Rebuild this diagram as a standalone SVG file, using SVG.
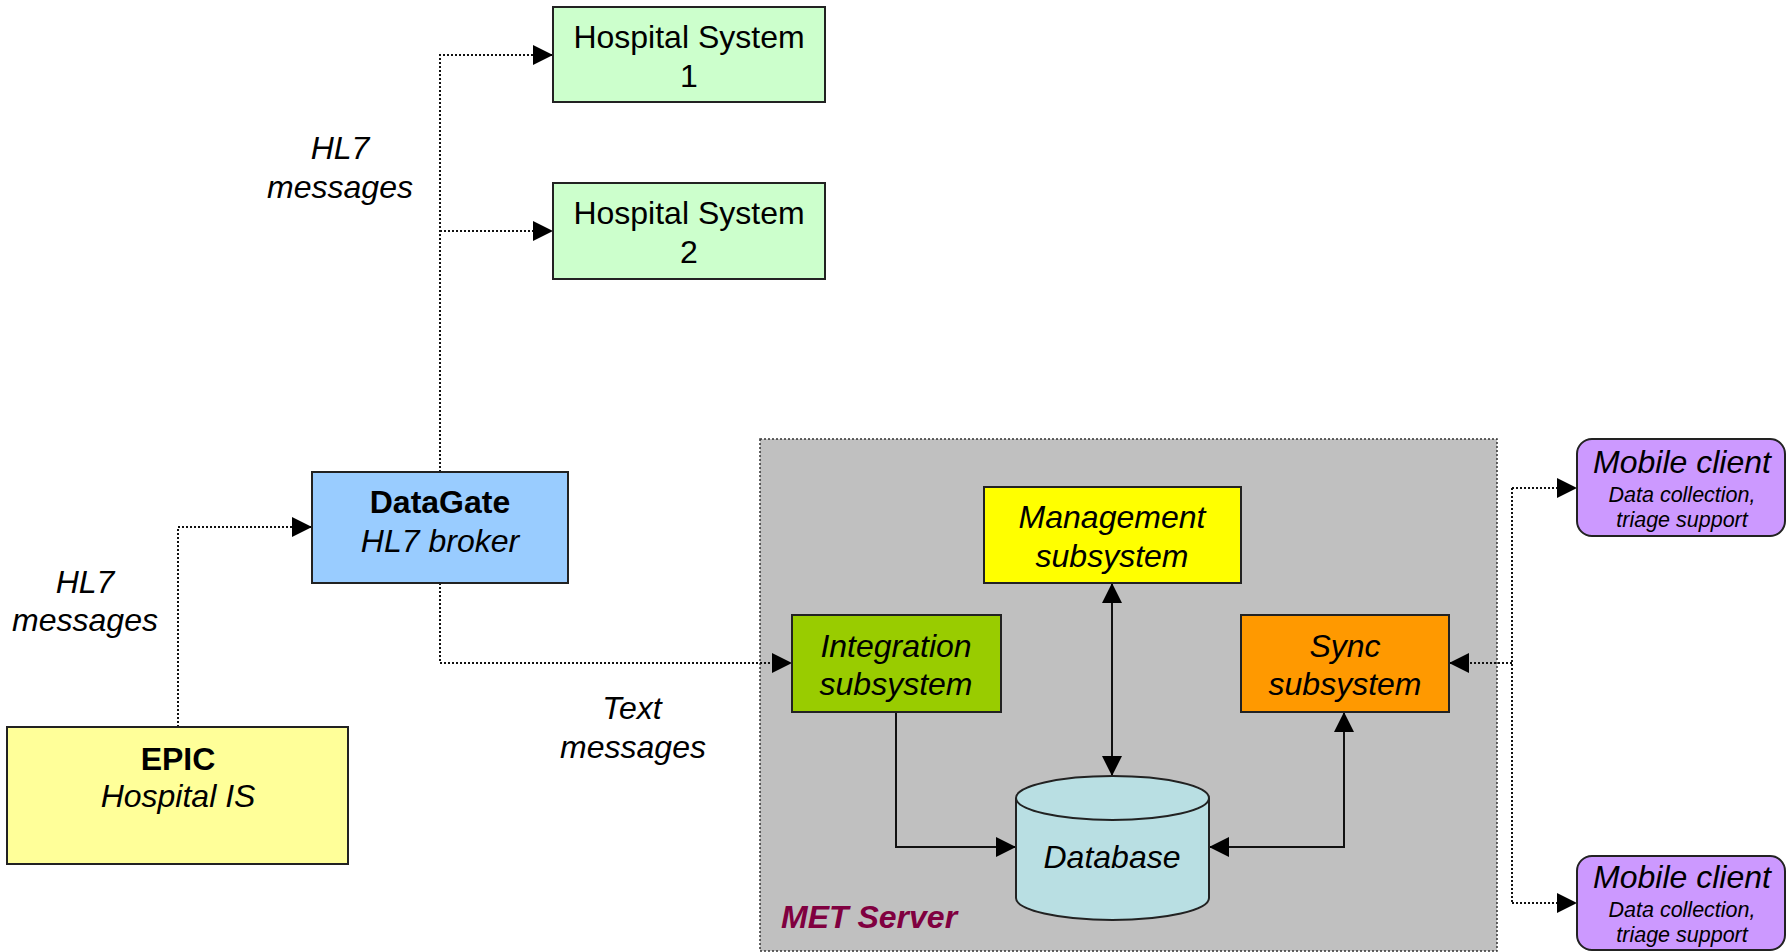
<svg xmlns="http://www.w3.org/2000/svg" width="1788" height="952" viewBox="0 0 1788 952">
<style>
.box{stroke:#222;stroke-width:2}
.t{font-family:"Liberation Sans",Arial,sans-serif;font-size:32px;fill:#000;text-anchor:middle}
.i{font-style:italic}
.b{font-weight:bold}
.s{font-size:21.5px}
.dot{fill:none;stroke:#111;stroke-width:2;stroke-dasharray:2 2}
.sol{fill:none;stroke:#111;stroke-width:2}
</style>
<defs>
<marker id="ah" markerUnits="userSpaceOnUse" markerWidth="20" markerHeight="20" refX="20" refY="10" orient="auto-start-reverse" viewBox="0 0 20 20">
<path d="M0,0 L20,10 L0,20 z" fill="#000"/>
</marker>
</defs>
<rect x="0" y="0" width="1788" height="952" fill="#fff"/>
<g id="met-server">
<rect x="760" y="439" width="737" height="512" fill="#C0C0C0" stroke="#333" stroke-width="1.5" stroke-dasharray="2 2"/>
<text class="t i b" x="781" y="928" style="text-anchor:start;fill:#800040">MET Server</text>
</g>
<g id="connectors">
<path class="dot" d="M440,472 V55 H553" marker-end="url(#ah)"/>
<path class="dot" d="M440,231 H553" marker-end="url(#ah)"/>
<path class="dot" d="M178,727 V527 H312" marker-end="url(#ah)"/>
<path class="dot" d="M440,583 V663 H792" marker-end="url(#ah)"/>
<path class="dot" d="M1512,488 V903"/>
<path class="dot" d="M1512,663 H1449" marker-end="url(#ah)"/>
<path class="dot" d="M1512,488 H1577" marker-end="url(#ah)"/>
<path class="dot" d="M1512,903 H1577" marker-end="url(#ah)"/>
<path class="sol" d="M1112,583 V776" marker-start="url(#ah)" marker-end="url(#ah)"/>
<path class="sol" d="M896,712 V847 H1016" marker-end="url(#ah)"/>
<path class="sol" d="M1209,847 H1344 V712" marker-start="url(#ah)" marker-end="url(#ah)"/>
</g>
<g id="hospital-system-1">
<rect class="box" x="553" y="7" width="272" height="95" fill="#CCFFCC"/>
<text class="t" x="689" y="48">Hospital System</text>
<text class="t" x="689" y="87">1</text>
</g>
<g id="hospital-system-2">
<rect class="box" x="553" y="183" width="272" height="96" fill="#CCFFCC"/>
<text class="t" x="689" y="224">Hospital System</text>
<text class="t" x="689" y="263">2</text>
</g>
<g id="label-hl7-top">
<text class="t i" x="340" y="159">HL7</text>
<text class="t i" x="340" y="198">messages</text>
</g>
<g id="label-hl7-left">
<text class="t i" x="85" y="593">HL7</text>
<text class="t i" x="85" y="631">messages</text>
</g>
<g id="label-text">
<text class="t i" x="632" y="719">Text</text>
<text class="t i" x="633" y="758">messages</text>
</g>
<g id="datagate">
<rect class="box" x="312" y="472" width="256" height="111" fill="#99CCFF"/>
<text class="t b" x="440" y="513">DataGate</text>
<text class="t i" x="440" y="552">HL7 broker</text>
</g>
<g id="epic">
<rect class="box" x="7" y="727" width="341" height="137" fill="#FFFF99"/>
<text class="t b" x="178" y="770">EPIC</text>
<text class="t i" x="178" y="807">Hospital IS</text>
</g>
<g id="management">
<rect class="box" x="984" y="487" width="257" height="96" fill="#FFFF00"/>
<text class="t i" x="1112" y="528">Management</text>
<text class="t i" x="1112" y="567">subsystem</text>
</g>
<g id="integration">
<rect class="box" x="792" y="615" width="209" height="97" fill="#99CC00"/>
<text class="t i" x="896" y="657">Integration</text>
<text class="t i" x="896" y="695">subsystem</text>
</g>
<g id="sync">
<rect class="box" x="1241" y="615" width="208" height="97" fill="#FF9900"/>
<text class="t i" x="1345" y="657">Sync</text>
<text class="t i" x="1345" y="695">subsystem</text>
</g>
<g id="database">
<path class="box" d="M1016,798 V898 A96.5,22 0 0 0 1209,898 V798 A96.5,22 0 0 0 1016,798 Z" fill="#B9DFE3"/>
<path d="M1016,798 A96.5,22 0 0 0 1209,798" fill="none" stroke="#222" stroke-width="2"/>
<text class="t i" x="1112" y="868">Database</text>
</g>
<g id="mobile-client-1">
<rect class="box" x="1577" y="439" width="208" height="97" rx="15" fill="#CC99FF"/>
<text class="t i" x="1682" y="473">Mobile client</text>
<text class="t i s" x="1682" y="502">Data collection,</text>
<text class="t i s" x="1682" y="527">triage support</text>
</g>
<g id="mobile-client-2">
<rect class="box" x="1577" y="856" width="208" height="94" rx="15" fill="#CC99FF"/>
<text class="t i" x="1682" y="888">Mobile client</text>
<text class="t i s" x="1682" y="917">Data collection,</text>
<text class="t i s" x="1682" y="942">triage support</text>
</g>
</svg>
